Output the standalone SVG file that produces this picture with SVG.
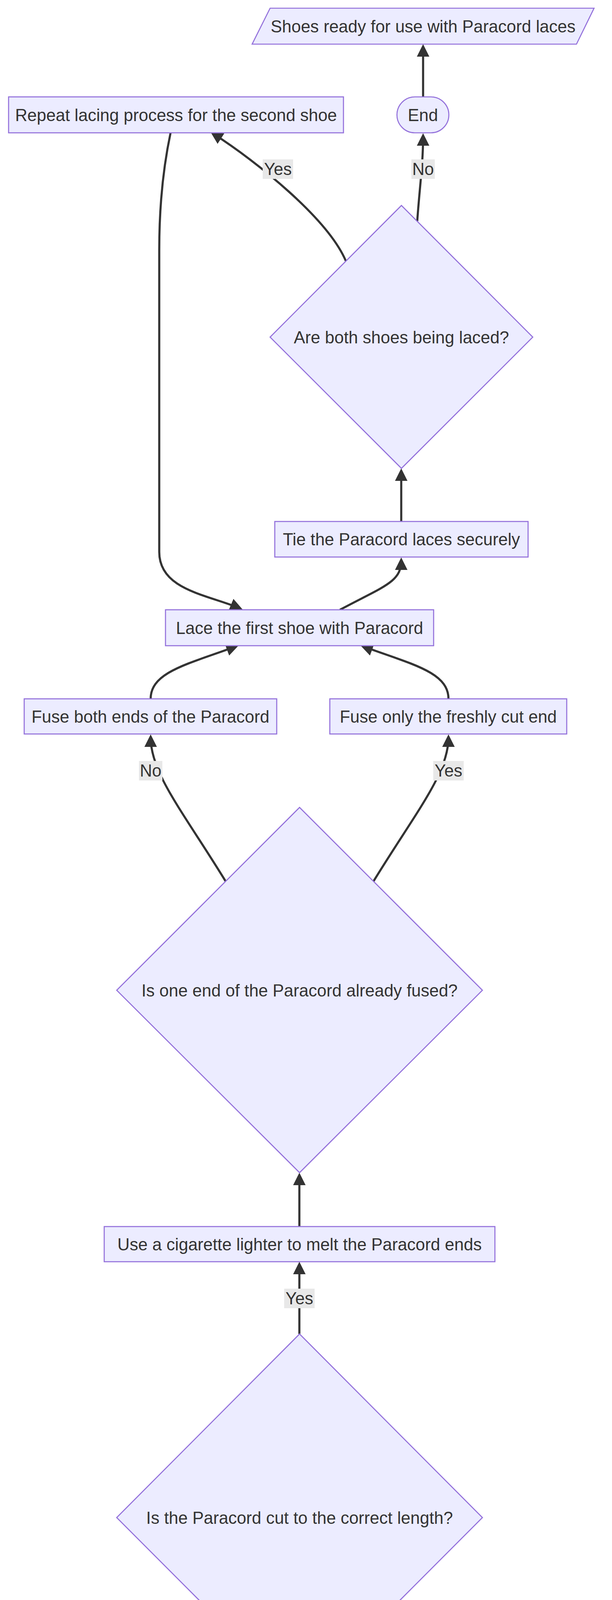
<svg xmlns="http://www.w3.org/2000/svg" width="1568" height="5568" viewBox="0 0 1568 5568">
<style>
.nd{fill:#ECECFF;stroke:#9370DB;stroke-width:2.7}
.ed{fill:none;stroke:#333333;stroke-width:5.4;marker-end:url(#arr)}
.lb{fill:#e8e8e8}
text{font-family:"Liberation Sans",Arial,sans-serif;font-size:43.5px;fill:#333333;text-anchor:middle}
</style>
<defs>
<marker id="arr" viewBox="0 0 10 10" refX="7.5" refY="5" markerWidth="32" markerHeight="32" markerUnits="userSpaceOnUse" orient="auto">
<path d="M0,0 L10,5 L0,10 z" fill="#333333"/>
</marker>
</defs>
<rect width="1568" height="5568" fill="#ffffff"/>
<g id="connectors">
<path class="ed" d="M767,5398 L767,5270"/>
<path class="ed" d="M767,5171 L767,5043"/>
<path class="ed" d="M767,4944 L767,4816"/>
<path class="ed" d="M886,4717 C1010,4652 1061,4640 1061,4591"/>
<path class="ed" d="M1061,4489 C1061,4400 1000,4300 938,4197"/>
<path class="ed" d="M603,4188 C515,4360 473,4450 473,4540 C473,4640 520,4665 638,4716"/>
<path class="ed" d="M767,3415 L767,3238"/>
<path class="ed" d="M767,3140 L767,3010"/>
<path class="ed" d="M578,2256 C470,2080 386,1980 386,1888"/>
<path class="ed" d="M957,2256 C1065,2080 1149,1980 1149,1888"/>
<path class="ed" d="M386,1789 C386,1720 482,1700 604,1655"/>
<path class="ed" d="M1149,1789 C1149,1720 1053,1700 931,1655"/>
<path class="ed" d="M871,1561 C985,1500 1028,1490 1028,1435"/>
<path class="ed" d="M1028,1335 L1028,1207"/>
<path class="ed" d="M886,668 C840,560 660,415 546,342"/>
<path class="ed" d="M1069,566 C1075,480 1084,420 1084,349"/>
<path class="ed" d="M1084,248 L1084,121"/>
<path class="ed" d="M437,340 C420,420 408,520 408,640 L408,1413 C408,1510 530,1522 614,1557"/>
</g>
<g id="edge-labels">
<g id="lbl-d2-yes"><rect class="lb" x="673" y="408" width="78" height="50"/><text x="712" y="448">Yes</text></g>
<g id="lbl-d2-no"><rect class="lb" x="1054" y="408" width="60" height="50"/><text x="1084" y="448">No</text></g>
<g id="lbl-d1-no"><rect class="lb" x="356" y="1948" width="60" height="50"/><text x="386" y="1988">No</text></g>
<g id="lbl-d1-yes"><rect class="lb" x="1110" y="1948" width="78" height="50"/><text x="1149" y="1988">Yes</text></g>
<g id="lbl-d0-yes"><rect class="lb" x="728" y="3299" width="78" height="50"/><text x="767" y="3339">Yes</text></g>
<g id="lbl-d0-no"><rect class="lb" x="443" y="4510" width="60" height="50"/><text x="473" y="4550">No</text></g>
</g>
<g id="node-shoes"><polygon class="nd" points="692,21 1522,21 1477,113 646,113"/><text x="1084" y="82.5">Shoes ready for use with Paracord laces</text></g>
<g id="node-end"><rect class="nd" x="1017" y="248" width="133" height="92" rx="46" ry="46"/><text x="1083.5" y="309.5">End</text></g>
<g id="node-repeat"><rect class="nd" x="22" y="248" width="858" height="92"/><text x="451" y="309.5">Repeat lacing process for the second shoe</text></g>
<g id="node-both"><polygon class="nd" points="1028.5,526 1365,863 1028.5,1199 692,863"/><text x="1028.5" y="878.5">Are both shoes being laced?</text></g>
<g id="node-tie"><rect class="nd" x="704" y="1335" width="649" height="91"/><text x="1028.5" y="1396">Tie the Paracord laces securely</text></g>
<g id="node-lace"><rect class="nd" x="424" y="1561" width="687" height="92"/><text x="767.5" y="1622.5">Lace the first shoe with Paracord</text></g>
<g id="node-fuseboth"><rect class="nd" x="62" y="1789" width="647" height="90"/><text x="385.5" y="1849.5">Fuse both ends of the Paracord</text></g>
<g id="node-fuseonly"><rect class="nd" x="845" y="1789" width="607" height="90"/><text x="1148.5" y="1849.5">Fuse only the freshly cut end</text></g>
<g id="node-fused"><polygon class="nd" points="767.5,2067 1236,2535 767.5,3002 299,2535"/><text x="767.5" y="2550.5">Is one end of the Paracord already fused?</text></g>
<g id="node-lighter"><rect class="nd" x="267" y="3140" width="1001" height="90"/><text x="767.5" y="3200.5">Use a cigarette lighter to melt the Paracord ends</text></g>
<g id="node-length"><polygon class="nd" points="767.5,3415 1236,3885 767.5,4354 299,3885"/><text x="767.5" y="3900.5">Is the Paracord cut to the correct length?</text></g>
<g id="node-cut"><rect class="nd" x="594" y="4489" width="936" height="92"/><text x="1062" y="4550.5">Cut the Paracord using scissors or pocketknife</text></g>
<g id="node-measure"><rect class="nd" x="369" y="4717" width="797" height="91"/><text x="767.5" y="4778">Measure Paracord against the shoelace</text></g>
<g id="node-remove"><rect class="nd" x="364" y="4944" width="807" height="91"/><text x="767.5" y="5005">Remove one shoelace for measurement</text></g>
<g id="node-prepare"><rect class="nd" x="324" y="5171" width="887" height="91"/><text x="767.5" y="5232">Prepare to replace shoelaces with Paracord</text></g>
<g id="node-start"><rect class="nd" x="688" y="5398" width="158" height="91" rx="45.5" ry="45.5"/><text x="767" y="5459">Start</text></g>
</svg>
